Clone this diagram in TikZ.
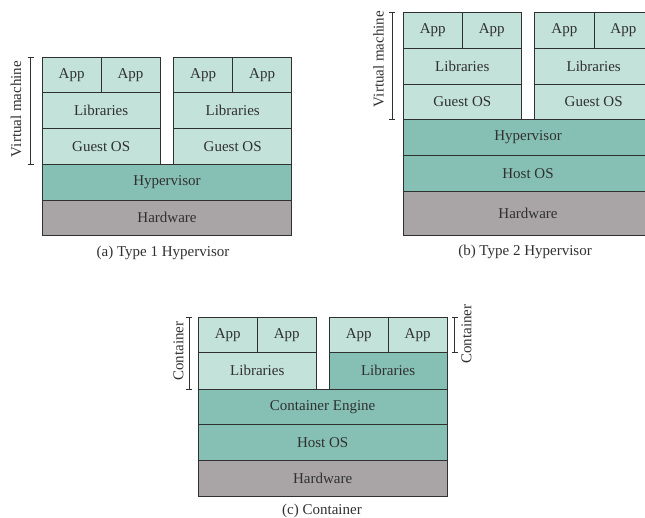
\documentclass[tikz,border=0pt]{standalone}
\usepackage{fontspec}
\setmainfont{Liberation Serif}
\definecolor{vmlight}{HTML}{C3E2DA}
\definecolor{vmmid}{HTML}{86C0B4}
\definecolor{hwgray}{HTML}{A9A5A6}
\definecolor{inkdark}{HTML}{303030}
\tikzset{
  cell/.style={draw=inkdark, line width=0.9pt, inner sep=0pt, outer sep=0pt,
    anchor=north west, text=inkdark,
    font=\fontsize{15}{17}\selectfont},
  bracketline/.style={draw=inkdark, line width=0.8pt},
  sidelabel/.style={rotate=90, text=inkdark, inner sep=0pt,
    font=\fontsize{15}{17}\selectfont},
  caption/.style={text=inkdark, inner sep=0pt,
    font=\fontsize{15}{17}\selectfont}
}
% \layer{name}{x1}{y1}{x2}{y2}{fill}{text}  (pixel-style coordinates)
\newcommand{\layer}[7]{%
  \node[cell, fill=#6, minimum width={(#4-#2)*1pt}, minimum height={(#5-#3)*1pt}]
    (#1) at (#2,#3) {#7};}
% \vbracket{name}{x}{ytop}{ybottom}
\newcommand{\vbracket}[4]{%
  \coordinate (#1t) at (#2,#3);
  \coordinate (#1b) at (#2,#4);
  \draw[bracketline] ([xshift=-3pt]#1t) -- ([xshift=3pt]#1t)
    (#1t) -- (#1b)
    ([xshift=-3pt]#1b) -- ([xshift=3pt]#1b);}
\begin{document}
\begin{tikzpicture}[x=1pt, y=-1pt]
\useasboundingbox (0,0) rectangle (645,517);
\clip (0,0) rectangle (645,517);

% ---------- (a) Type 1 hypervisor ----------
\layer{aApp1}{42.3}{57.3}{101}{92.3}{vmlight}{App}
\layer{aApp2}{101}{57.3}{160}{92.3}{vmlight}{App}
\layer{aLib1}{42.3}{92.3}{160}{128.3}{vmlight}{Libraries}
\layer{aOS1}{42.3}{128.3}{160}{164.3}{vmlight}{Guest OS}
\layer{aApp3}{173.7}{57.3}{232.5}{92.3}{vmlight}{App}
\layer{aApp4}{232.5}{57.3}{291.7}{92.3}{vmlight}{App}
\layer{aLib2}{173.7}{92.3}{291.7}{128.3}{vmlight}{Libraries}
\layer{aOS2}{173.7}{128.3}{291.7}{164.3}{vmlight}{Guest OS}
\layer{aHyp}{42.3}{164.3}{291.7}{200}{vmmid}{Hypervisor}
\layer{aHw}{42.3}{200}{291.7}{235}{hwgray}{Hardware}
\vbracket{aBr}{30.7}{57.3}{164.3}
\node[sidelabel] (aVM) at (16,109) {Virtual machine};
\node[caption] (aCap) at (163,253) {(a) Type 1 Hypervisor};

% ---------- (b) Type 2 hypervisor ----------
\layer{bApp1}{403.3}{12.7}{462.3}{48.3}{vmlight}{App}
\layer{bApp2}{462.3}{12.7}{521.3}{48.3}{vmlight}{App}
\layer{bLib1}{403.3}{48.3}{521.3}{84.3}{vmlight}{Libraries}
\layer{bOS1}{403.3}{84.3}{521.3}{119.3}{vmlight}{Guest OS}
\layer{bApp3}{534.7}{12.7}{594}{48.3}{vmlight}{App}
\layer{bApp4}{594}{12.7}{652.7}{48.3}{vmlight}{App}
\layer{bLib2}{534.7}{48.3}{652.7}{84.3}{vmlight}{Libraries}
\layer{bOS2}{534.7}{84.3}{652.7}{119.3}{vmlight}{Guest OS}
\layer{bHyp}{403.3}{119.3}{652.7}{155.3}{vmmid}{Hypervisor}
\layer{bHost}{403.3}{155.3}{652.7}{191}{vmmid}{Host OS}
\layer{bHw}{403.3}{191}{652.7}{235}{hwgray}{Hardware}
\vbracket{bBr}{392.3}{12.7}{119.3}
\node[sidelabel] (bVM) at (378.5,59) {Virtual machine};
\node[caption] (bCap) at (525,252) {(b) Type 2 Hypervisor};

% ---------- (c) Container ----------
\layer{cApp1}{198.3}{317.3}{257.3}{352.7}{vmlight}{App}
\layer{cApp2}{257.3}{317.3}{316.3}{352.7}{vmlight}{App}
\layer{cLib1}{198.3}{352.7}{316.3}{389}{vmlight}{Libraries}
\layer{cApp3}{329.3}{317.3}{388.3}{352.7}{vmlight}{App}
\layer{cApp4}{388.3}{317.3}{447}{352.7}{vmlight}{App}
\layer{cLib2}{329.3}{352.7}{447}{389}{vmmid}{Libraries}
\layer{cEng}{198.3}{389}{447}{424.3}{vmmid}{Container Engine}
\layer{cHost}{198.3}{424.3}{447}{460}{vmmid}{Host OS}
\layer{cHw}{198.3}{460}{447}{496}{hwgray}{Hardware}
\vbracket{cBrL}{189.3}{317.3}{389}
\node[sidelabel] (cCL) at (178.5,351) {Container};
\vbracket{cBrR}{454.5}{317.3}{352.7}
\node[sidelabel] (cCR) at (466.5,334) {Container};
\node[caption] (cCap) at (322,511) {(c) Container};
\end{tikzpicture}
\end{document}
